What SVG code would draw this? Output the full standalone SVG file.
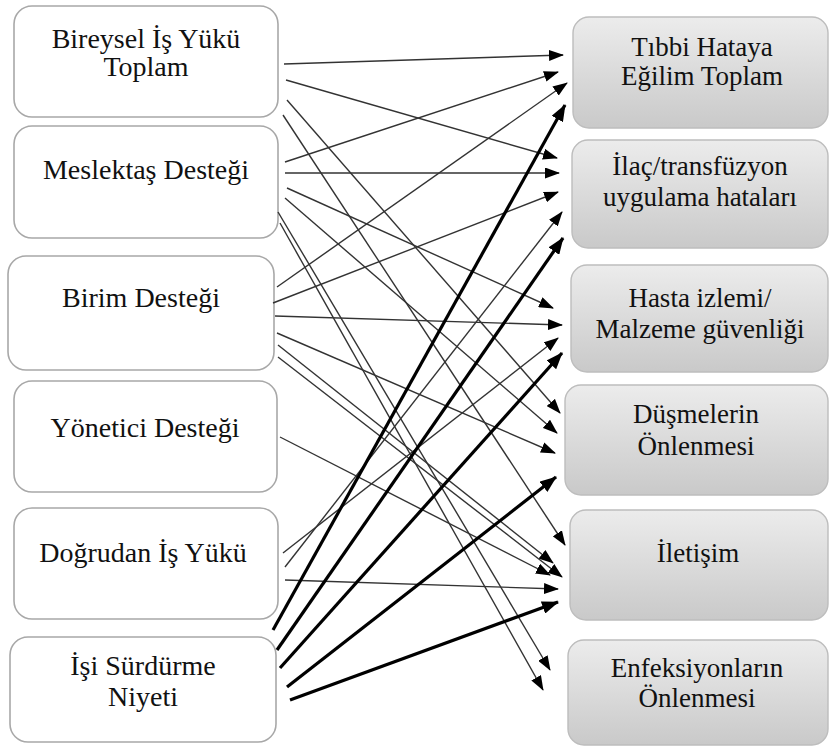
<svg xmlns="http://www.w3.org/2000/svg" width="830" height="749" viewBox="0 0 830 749">
<defs>
<linearGradient id="g" x1="0" y1="0" x2="0" y2="1">
<stop offset="0" stop-color="#ececec"/>
<stop offset="1" stop-color="#c9c9c9"/>
</linearGradient>
<marker id="a" markerUnits="userSpaceOnUse" markerWidth="15" markerHeight="11" refX="14" refY="5.5" orient="auto">
<path d="M0,0 L15,5.5 L0,11 z" fill="#000"/>
</marker>
<marker id="b" markerUnits="userSpaceOnUse" markerWidth="17" markerHeight="13" refX="16" refY="6.5" orient="auto">
<path d="M0,0 L17,6.5 L0,13 z" fill="#000"/>
</marker>
</defs>
<style>
.l rect{fill:#fff;stroke:#a8a8a8;stroke-width:1.6}
.r rect{fill:url(#g);stroke:#bdbdbd;stroke-width:1.4}
.l text{font-size:28px}
.r text{font-size:27px}
.txt{fill:#111;text-anchor:middle}
.t{stroke:#333;stroke-width:1.4;fill:none;marker-end:url(#a)}
.k{stroke:#000;stroke-width:3.2;fill:none;marker-end:url(#b)}
</style>
<rect width="830" height="749" fill="#fff"/>
<g class="txt" font-family="'Liberation Serif', 'DejaVu Serif', serif">
<g id="n1" class="l"><rect x="14" y="6" width="264" height="111" rx="18"/><text x="146" y="48">Bireysel İş Yükü</text><text x="146" y="76">Toplam</text></g>
<g id="n2" class="l"><rect x="14" y="126" width="264" height="112" rx="18"/><text x="146" y="179">Meslektaş Desteği</text></g>
<g id="n3" class="l"><rect x="8" y="256" width="266" height="114" rx="18"/><text x="141" y="307">Birim Desteği</text></g>
<g id="n4" class="l"><rect x="14" y="381" width="263" height="111" rx="18"/><text x="145" y="437">Yönetici Desteği</text></g>
<g id="n5" class="l"><rect x="14" y="508" width="264" height="111" rx="18"/><text x="143" y="562">Doğrudan İş Yükü</text></g>
<g id="n6" class="l"><rect x="10" y="637" width="266" height="105" rx="18"/><text x="143" y="675">İşi Sürdürme</text><text x="143" y="706">Niyeti</text></g>
<g id="m1" class="r"><rect x="573" y="17" width="255" height="111" rx="16"/><text x="702" y="56">Tıbbi Hataya</text><text x="702" y="85">Eğilim Toplam</text></g>
<g id="m2" class="r"><rect x="572" y="140" width="256" height="108" rx="16"/><text x="700" y="175">İlaç/transfüzyon</text><text x="700" y="206">uygulama hataları</text></g>
<g id="m3" class="r"><rect x="571" y="265" width="257" height="107" rx="16"/><text x="700" y="307">Hasta izlemi/</text><text x="700" y="338">Malzeme güvenliği</text></g>
<g id="m4" class="r"><rect x="565" y="385" width="263" height="110" rx="16"/><text x="696" y="423">Düşmelerin</text><text x="696" y="455">Önlenmesi</text></g>
<g id="m5" class="r"><rect x="570" y="510" width="258" height="110" rx="16"/><text x="698" y="562">İletişim</text></g>
<g id="m6" class="r"><rect x="568" y="640" width="260" height="105" rx="16"/><text x="697" y="677">Enfeksiyonların</text><text x="697" y="707">Önlenmesi</text></g>
</g>
<g id="connectors">
<line class="t" x1="284" y1="64" x2="563" y2="55"/>
<line class="t" x1="286" y1="80" x2="557" y2="158"/>
<line class="t" x1="287" y1="100" x2="560" y2="413"/>
<line class="t" x1="283" y1="115" x2="565" y2="545"/>
<line class="t" x1="285" y1="162" x2="558" y2="72"/>
<line class="t" x1="285" y1="173" x2="559" y2="173"/>
<line class="t" x1="287" y1="188" x2="553" y2="308"/>
<line class="t" x1="285" y1="198" x2="557" y2="433"/>
<line class="t" x1="278" y1="212" x2="550" y2="670"/>
<line class="t" x1="280" y1="223" x2="543" y2="690"/>
<line class="t" x1="277" y1="287" x2="567" y2="83"/>
<line class="t" x1="273" y1="303" x2="558" y2="192"/>
<line class="t" x1="275" y1="316" x2="562" y2="325"/>
<line class="t" x1="277" y1="333" x2="555" y2="453"/>
<line class="t" x1="278" y1="345" x2="553" y2="563"/>
<line class="t" x1="278" y1="357" x2="562" y2="577"/>
<line class="t" x1="280" y1="437" x2="550" y2="575"/>
<line class="t" x1="283" y1="553" x2="558" y2="338"/>
<line class="t" x1="285" y1="567" x2="562" y2="212"/>
<line class="t" x1="285" y1="580" x2="558" y2="589"/>
<line class="k" x1="273" y1="630" x2="565" y2="105"/>
<line class="k" x1="277" y1="650" x2="563" y2="238"/>
<line class="k" x1="280" y1="668" x2="562" y2="353"/>
<line class="k" x1="287" y1="687" x2="556" y2="477"/>
<line class="k" x1="290" y1="700" x2="558" y2="602"/>
</g>
</svg>
